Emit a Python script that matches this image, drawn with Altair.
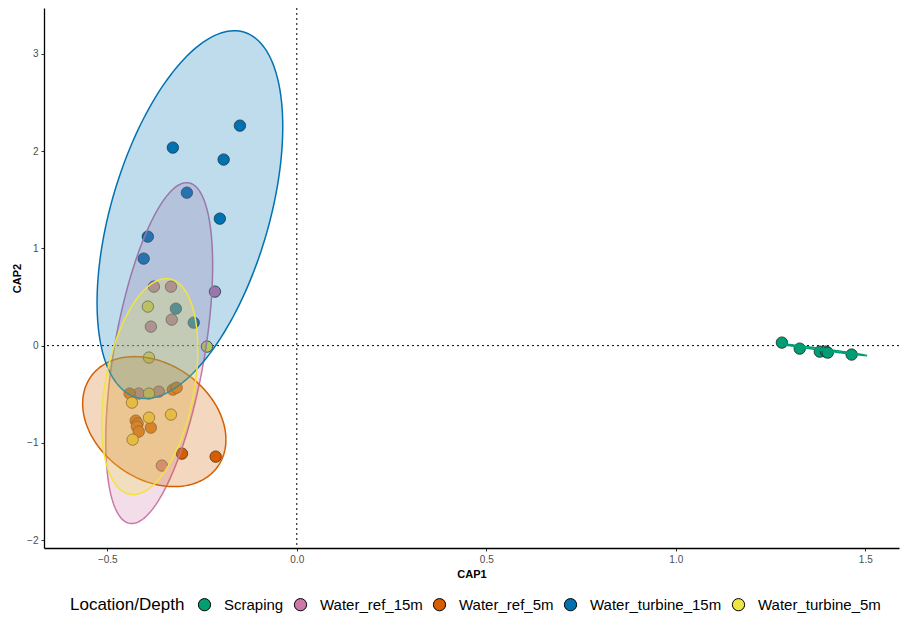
import altair as alt
import numpy as np
import pandas as pd

groups = ["Scraping", "Water_ref_15m", "Water_ref_5m", "Water_turbine_15m", "Water_turbine_5m"]
colors = ["#009E73", "#CC79A7", "#D55E00", "#0072B2", "#F0E442"]

# CAP scores
scraping_x = [1.280, 1.327, 1.380, 1.396, 1.401, 1.464]
scraping_y = [0.031, -0.031, -0.062, -0.062, -0.072, -0.092]

ref15_x = [-0.216, -0.377, -0.332, -0.330, -0.385, -0.417, -0.364, -0.356]
ref15_y = [0.555, 0.606, 0.606, 0.267, 0.195, -0.493, -0.473, -1.233]

ref5_x = [-0.441, -0.327, -0.317, -0.425, -0.420, -0.422, -0.417, -0.385, -0.303, -0.214]
ref5_y = [-0.493, -0.452, -0.432, -0.771, -0.802, -0.832, -0.884, -0.843, -1.110, -1.141]

turb15_x = [-0.150, -0.327, -0.193, -0.290, -0.203, -0.393, -0.404, -0.319, -0.272]
turb15_y = [2.261, 2.035, 1.912, 1.572, 1.305, 1.120, 0.894, 0.380, 0.236]

turb5_x = [-0.393, -0.237, -0.390, -0.390, -0.435, -0.390, -0.332, -0.433]
turb5_y = [0.401, -0.010, -0.123, -0.493, -0.586, -0.740, -0.709, -0.966]

# ellipse parameters: centre, half x-extent, half y-extent, correlation
ell_cx = [1.388, -0.363, -0.376, -0.282, -0.388]
ell_cy = [-0.041, -0.077, -0.781, 1.346, -0.421]
ell_rx = [0.116, 0.141, 0.189, 0.245, 0.127]
ell_ry = [0.062, 1.752, 0.668, 1.890, 1.110]
ell_r = [-0.99, 0.514, -0.277, 0.478, 0.343]

xs = [scraping_x, ref15_x, ref5_x, turb15_x, turb5_x]
ys = [scraping_y, ref15_y, ref5_y, turb15_y, turb5_y]

pts = pd.DataFrame(
    [{"CAP1": x, "CAP2": y, "group": g} for g, gx, gy in zip(groups, xs, ys) for x, y in zip(gx, gy)]
)

t = np.linspace(0, 2 * np.pi, 181)
rows = []
for g, cx, cy, rx, ry, r in zip(groups, ell_cx, ell_cy, ell_rx, ell_ry, ell_r):
    ex = cx + rx * np.cos(t)
    ey = cy + ry * (r * np.cos(t) + np.sqrt(1 - r * r) * np.sin(t))
    for i, (a, b) in enumerate(zip(ex, ey)):
        rows.append({"CAP1": a, "CAP2": b, "group": g, "i": i})
ell = pd.DataFrame(rows)

xdom = [-0.667, 1.589]
ydom = [-2.08, 3.47]
xscale = alt.Scale(domain=xdom, nice=False, zero=False)
yscale = alt.Scale(domain=ydom, nice=False, zero=False)

xaxis = alt.Axis(values=[-0.5, 0.0, 0.5, 1.0, 1.5], format=".1f", grid=False, title="CAP1")
yaxis = alt.Axis(values=[-2, -1, 0, 1, 2, 3], format="d", grid=False, title="CAP2")

points = alt.Chart(pts).mark_point(
    filled=True, size=130, stroke="#222222", strokeWidth=0.8, opacity=1, fillOpacity=1
).encode(
    x=alt.X("CAP1:Q", scale=xscale, axis=xaxis),
    y=alt.Y("CAP2:Q", scale=yscale, axis=yaxis),
    fill=alt.Fill(
        "group:N",
        scale=alt.Scale(domain=groups, range=colors),
        legend=alt.Legend(
            title="Location/Depth",
            orient="none",
            legendX=26,
            legendY=589,
            direction="horizontal",
            titleOrient="left",
            titleFontSize=17,
            titleFontWeight="normal",
            titleColor="black",
            titlePadding=12,
            labelFontSize=15,
            labelColor="black",
            labelOffset=12,
            columnPadding=8,
            symbolType="circle",
            symbolSize=150,
            symbolStrokeColor="black",
            symbolStrokeWidth=1,
            symbolFillColor="black",
        ),
    ),
)

ell_layers = []
for g, c in zip(groups, colors):
    ell_layers.append(
        alt.Chart(ell)
        .transform_filter(alt.datum.group == g)
        .mark_line(fill=c, fillOpacity=0.25, stroke=c, strokeWidth=1.5)
        .encode(
            x=alt.X("CAP1:Q", scale=xscale),
            y=alt.Y("CAP2:Q", scale=yscale),
            order="i:Q",
        )
    )

vline = alt.Chart(pd.DataFrame({"v": [0]})).mark_rule(
    color="black", strokeDash=[2, 3], strokeWidth=1
).encode(x=alt.X("v:Q", scale=xscale))
hline = alt.Chart(pd.DataFrame({"v": [0]})).mark_rule(
    color="black", strokeDash=[2, 3], strokeWidth=1
).encode(y=alt.Y("v:Q", scale=yscale))

chart = (
    alt.layer(vline, hline, points, *ell_layers)
    .properties(
        width=855,
        height=540,
        autosize=alt.AutoSizeParams(type="none"),
        padding={"left": 36, "top": 0, "right": 2, "bottom": 68},
    )
    .configure_view(stroke=None)
    .configure_axis(
        domainColor="black",
        domainWidth=1.3,
        tickColor="#333333",
        tickSize=3,
        labelColor="#4d4d4d",
        labelFontSize=10,
        labelFont="Liberation Sans",
        titleFont="Liberation Sans",
        titleFontSize=11,
        titleFontWeight="bold",
        titleColor="black",
        labelPadding=3,
        titlePadding=4,
    )
    .configure_legend(labelFont="Liberation Sans", titleFont="Liberation Sans")
)

chart.save("out.html", embed_options={"renderer": "svg", "actions": False})
